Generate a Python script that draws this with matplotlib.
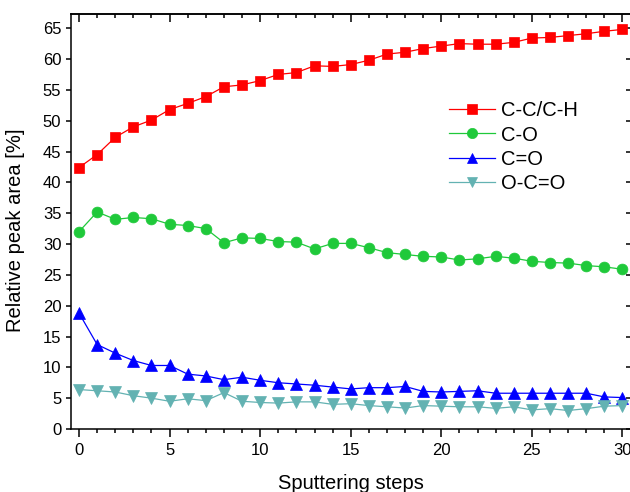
import matplotlib
matplotlib.use("Agg")
import matplotlib.pyplot as plt
from matplotlib.ticker import MultipleLocator

plt.rcParams['font.family'] = ['Liberation Sans', 'DejaVu Sans']

steps = list(range(31))
cc_ch = [42.4, 44.5, 47.3, 49.0, 50.1, 51.8, 52.8, 53.9, 55.5, 55.8, 56.5,
         57.5, 57.8, 58.9, 58.8, 59.1, 59.8, 60.8, 61.1, 61.7, 62.1, 62.5,
         62.4, 62.4, 62.7, 63.4, 63.5, 63.8, 64.1, 64.5, 64.8]
c_o = [32.0, 35.2, 34.0, 34.3, 34.1, 33.2, 33.0, 32.5, 30.2, 31.0, 30.9,
       30.4, 30.3, 29.2, 30.1, 30.1, 29.4, 28.6, 28.3, 28.0, 27.9, 27.4,
       27.6, 28.0, 27.7, 27.2, 27.0, 26.9, 26.5, 26.3, 25.9]
c_dbl_o = [18.8, 13.7, 12.3, 11.1, 10.3, 10.3, 8.9, 8.6, 8.0, 8.4, 7.9,
           7.5, 7.3, 7.1, 6.8, 6.5, 6.7, 6.7, 6.9, 6.1, 6.0, 6.1,
           6.2, 5.8, 5.8, 5.8, 5.8, 5.8, 5.8, 5.2, 5.1]
o_c_o = [6.4, 6.2, 6.0, 5.4, 5.0, 4.5, 4.9, 4.6, 5.9, 4.5, 4.3,
         4.2, 4.4, 4.4, 4.0, 4.1, 3.8, 3.6, 3.4, 3.8, 3.7, 3.6,
         3.6, 3.35, 3.6, 3.1, 3.3, 3.0, 3.3, 3.7, 3.8]
labels = ['C-C/C-H', 'C-O', 'C=O', 'O-C=O']
xticks = [0, 5, 10, 15, 20, 25, 30]
yticks = [0, 5, 10, 15, 20, 25, 30, 35, 40, 45, 50, 55, 60, 65]

fig = plt.figure(figsize=(6.3, 4.92), dpi=100)
L, R, T, B = 70.5, 631.0, 14.0, 429.0
ax = fig.add_axes([L / 630, 1 - B / 492, (R - L) / 630, (B - T) / 492])

styles = [
    dict(color='#ff0000', marker='s', ms=7.4),
    dict(color='#1fc93a', marker='o', ms=7.8),
    dict(color='#0000ff', marker='^', ms=8.2),
    dict(color='#63b2b2', marker='v', ms=8.2),
]
for y, lab, st in zip([cc_ch, c_o, c_dbl_o, o_c_o], labels, styles):
    ax.plot(steps, y, label=lab, lw=0.9, mec=st['color'], mew=0.5, **st)

ax.set_xlim(-0.47, 30.47)
ax.set_ylim(0, 67.3)
ax.set_xticks(xticks)
ax.set_yticks(yticks)
ax.xaxis.set_minor_locator(MultipleLocator(1))
ax.tick_params(axis='x', which='major', direction='out', length=5.8, width=1.1,
               labelsize=12, pad=4)
ax.tick_params(axis='x', which='minor', direction='out', length=2.9, width=1.1)
ax.tick_params(axis='y', which='major', direction='out', length=3.6, width=1.1,
               labelsize=12, pad=3)
for s in ax.spines.values():
    s.set_linewidth(1.1)

sx = ax.secondary_xaxis('top')
sx.set_xticks(xticks)
sx.xaxis.set_minor_locator(MultipleLocator(1))
sx.tick_params(axis='x', which='major', direction='in', length=5.8, width=1.1, labeltop=False)
sx.tick_params(axis='x', which='minor', direction='in', length=2.9, width=1.1)
sx.spines['top'].set_linewidth(1.1)

sy = ax.secondary_yaxis('right')
sy.set_yticks(yticks)
sy.tick_params(axis='y', which='major', direction='in', length=3.6, width=1.1, labelright=False)
sy.spines['right'].set_linewidth(1.1)

ax.set_xlabel('Sputtering steps', fontsize=14.5, labelpad=12)
ax.set_ylabel('Relative peak area [%]', fontsize=14.5)
ax.yaxis.set_label_coords(-0.081, 0.48)

ax.legend(loc='upper left', bbox_to_anchor=(449 / 630, 1 - 101.5 / 492),
          bbox_transform=fig.transFigure, frameon=False, fontsize=14.5,
          borderpad=0, borderaxespad=0, labelspacing=0.25, handlelength=2.3,
          handletextpad=0.3, markerscale=0.95)

fig.savefig('out.png', dpi=100)
